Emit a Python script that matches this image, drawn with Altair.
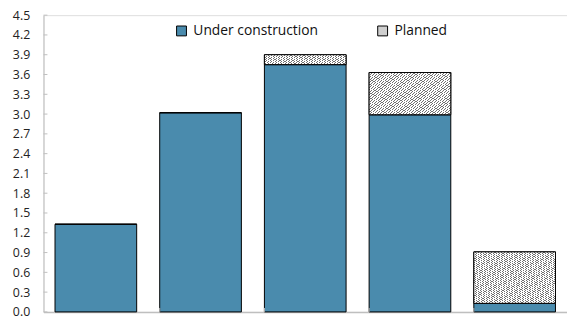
import altair as alt
import pandas as pd

categories = ["1", "2", "3", "4", "5"]
under_construction = [1.33, 3.02, 3.75, 2.99, 0.13]
planned = [0.0, 0.0, 0.15, 0.64, 0.78]
series = ["Under construction", "Planned"]
y_ticks = [round(0.3 * i, 1) for i in range(16)]

rows = []
for c, u, p in zip(categories, under_construction, planned):
    rows.append({"cat": c, "type": series[0], "y0": 0.0, "y1": u})
    rows.append({"cat": c, "type": series[1], "y0": u, "y1": u + p})
df = pd.DataFrame(rows)
df_planned = df[(df["type"] == series[1]) & (df["y1"] > df["y0"])]
df_ticks = pd.DataFrame({"v": y_ticks})
df_cats = pd.DataFrame({"cat": categories[1:]})

W, H = 531, 301
FONT = "Open Sans"

# diagonal hatch approximated with a striped linear gradient
N = 50
stops = []
for i in range(N):
    a = i / N
    b = (i + 0.35) / N
    stops += [
        {"offset": a, "color": "#707070"},
        {"offset": b, "color": "#707070"},
        {"offset": b, "color": "#ffffff"},
        {"offset": (i + 1) / N, "color": "#ffffff"},
    ]
hatch = {"gradient": "linear", "x1": 0, "y1": 1, "x2": 1, "y2": 0, "stops": stops}

xscale = alt.Scale(domain=categories, paddingInner=0.22, paddingOuter=0.11)
yscale = alt.Scale(domain=[0, 4.5], nice=False, zero=True)

x_axis = alt.Axis(title=None, labels=False, ticks=False, domainColor="#bfbfbf", domainWidth=1.5)
y_axis = alt.Axis(title=None, values=y_ticks, format=".1f", ticks=False,
                  domainColor="#bfbfbf", domainWidth=1, labelPadding=14,
                  labelOverlap=False, labelFontSize=12.5, labelColor="#222",
                  labelFont=FONT, grid=False)

bars = alt.Chart(df).mark_bar(stroke="black", strokeWidth=1).encode(
    x=alt.X("cat:N", scale=xscale, sort=categories, axis=x_axis),
    y=alt.Y("y0:Q", scale=yscale, axis=y_axis),
    y2="y1:Q",
    fill=alt.Fill("type:N", scale=alt.Scale(domain=series, range=["#4a8bad", "#cfcfcf"]),
                  legend=alt.Legend(title=None, orient="none", legendX=133, legendY=9,
                                    direction="horizontal", symbolType="square", symbolSize=100,
                                    symbolStrokeColor="black", symbolStrokeWidth=1,
                                    labelFontSize=14, labelFont=FONT, labelColor="#111",
                                    labelOffset=5, columnPadding=58, padding=0)),
)

hatched = alt.Chart(df_planned).mark_bar(stroke="black", strokeWidth=1, fill=hatch).encode(
    x=alt.X("cat:N", scale=xscale, sort=categories, axis=x_axis),
    y=alt.Y("y0:Q", scale=yscale, axis=y_axis),
    y2="y1:Q",
)

yticks = alt.Chart(df_ticks).mark_rule(color="#bfbfbf").encode(
    y=alt.Y("v:Q", scale=yscale, axis=y_axis),
    x=alt.value(0),
    x2=alt.value(4),
)

xticks = alt.Chart(df_cats).mark_rule(color="#bfbfbf").encode(
    x=alt.X("cat:N", scale=xscale, sort=categories, bandPosition=0, axis=x_axis),
    y=alt.value(H - 4),
    y2=alt.value(H),
)

chart = alt.layer(bars, hatched, yticks, xticks).properties(
    width=W, height=H,
    autosize=alt.AutoSizeParams(type="none"),
    padding={"left": 36, "top": 5, "right": 0, "bottom": 10},
).configure_view(stroke="#d0d0d0", strokeWidth=1.5).configure(font=FONT).configure_axis(labelOverlap=False)

chart.save("out.html", embed_options={"renderer": "svg", "actions": False})
